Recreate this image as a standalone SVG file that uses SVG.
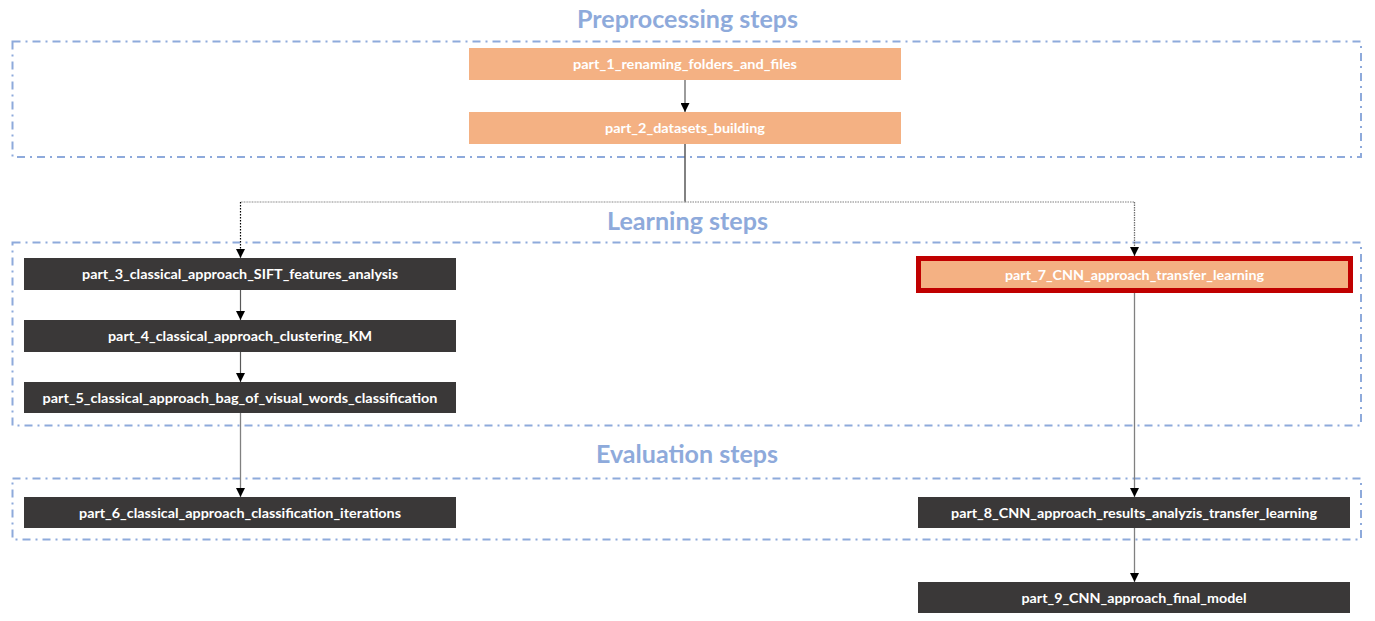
<svg xmlns="http://www.w3.org/2000/svg" width="1375" height="621" viewBox="0 0 1375 621">
<style>
.title{font-family:Lato,"Liberation Sans",sans-serif;font-weight:bold;font-size:24px;fill:#8EAADB;text-anchor:middle}
.lbl{font-family:Lato,"Liberation Sans",sans-serif;font-weight:bold;font-size:14px;fill:#FFFFFF;text-anchor:middle}
.grp{fill:none;stroke:#8EAADB;stroke-width:2;stroke-dasharray:8 5 2 5}
.orange{fill:#F4B183}
.dark{fill:#3A3838}
.ln{fill:none;stroke:#595959;stroke-width:1.2}
</style>
<defs>
<marker id="arr" viewBox="0 0 10 10" refX="10" refY="5" markerWidth="9" markerHeight="9" markerUnits="userSpaceOnUse" orient="auto">
<path d="M0,0 L10,5 L0,10 z" fill="#000000"/>
</marker>
</defs>
<rect width="1375" height="621" fill="#FFFFFF"/>
<g id="groups">
<rect class="grp" x="12.5" y="41.5" width="1348.5" height="115.5"/>
<rect class="grp" x="12.5" y="242.5" width="1348.5" height="183"/>
<rect class="grp" x="12.5" y="478.5" width="1348.5" height="61"/>
</g>
<g id="titles">
<text class="title" x="687.5" y="28" textLength="221" lengthAdjust="spacingAndGlyphs">Preprocessing steps</text>
<text class="title" x="687.5" y="230" textLength="161" lengthAdjust="spacingAndGlyphs">Learning steps</text>
<text class="title" x="687" y="463" textLength="182" lengthAdjust="spacingAndGlyphs">Evaluation steps</text>
</g>
<g id="connectors">
<line class="ln" x1="685" y1="80" x2="685" y2="112" marker-end="url(#arr)"/>
<line x1="685" y1="144" x2="685" y2="202" stroke="#595959" stroke-width="1.5"/>
<line x1="685" y1="202" x2="240.5" y2="202" stroke="#B0B0B0" stroke-width="1.5" stroke-dasharray="1 0.6"/>
<line x1="685" y1="202" x2="1134.5" y2="202" stroke="#808080" stroke-width="1.2" stroke-dasharray="1.5 1"/>
<line x1="240.5" y1="202" x2="240.5" y2="258" stroke="#000000" stroke-width="1.2" stroke-dasharray="1.5 1.5" marker-end="url(#arr)"/>
<line x1="1134.5" y1="202" x2="1134.5" y2="256" stroke="#707070" stroke-width="1.3" stroke-dasharray="1.5 1" marker-end="url(#arr)"/>
<line class="ln" x1="240.5" y1="290" x2="240.5" y2="320" marker-end="url(#arr)"/>
<line class="ln" x1="240.5" y1="352" x2="240.5" y2="382" marker-end="url(#arr)"/>
<line x1="240.5" y1="413" x2="240.5" y2="497" stroke="#808080" stroke-width="1.3" marker-end="url(#arr)"/>
<line x1="1134.5" y1="293" x2="1134.5" y2="497" stroke="#808080" stroke-width="1.3" marker-end="url(#arr)"/>
<line x1="1134.5" y1="528" x2="1134.5" y2="582" stroke="#808080" stroke-width="1.3" marker-end="url(#arr)"/>
</g>
<g id="part_1">
<rect class="orange" x="469" y="48" width="432" height="32"/>
<text class="lbl" x="685" y="69" textLength="224" lengthAdjust="spacingAndGlyphs">part_1_renaming_folders_and_files</text>
</g>
<g id="part_2">
<rect class="orange" x="469" y="112" width="432" height="32"/>
<text class="lbl" x="685" y="133" textLength="160" lengthAdjust="spacingAndGlyphs">part_2_datasets_building</text>
</g>
<g id="part_3">
<rect class="dark" x="24" y="258" width="432" height="32"/>
<text class="lbl" x="240" y="279" textLength="316" lengthAdjust="spacingAndGlyphs">part_3_classical_approach_SIFT_features_analysis</text>
</g>
<g id="part_4">
<rect class="dark" x="24" y="320" width="432" height="32"/>
<text class="lbl" x="240" y="341" textLength="264" lengthAdjust="spacingAndGlyphs">part_4_classical_approach_clustering_KM</text>
</g>
<g id="part_5">
<rect class="dark" x="24" y="382" width="432" height="31"/>
<text class="lbl" x="240" y="402.5" textLength="395" lengthAdjust="spacingAndGlyphs">part_5_classical_approach_bag_of_visual_words_classification</text>
</g>
<g id="part_6">
<rect class="dark" x="24" y="497" width="432" height="31"/>
<text class="lbl" x="240" y="517.5" textLength="322" lengthAdjust="spacingAndGlyphs">part_6_classical_approach_classification_iterations</text>
</g>
<g id="part_7">
<rect class="orange" x="918.5" y="258.5" width="432" height="32" stroke="#C00000" stroke-width="5"/>
<text class="lbl" x="1134.5" y="279.5" textLength="259" lengthAdjust="spacingAndGlyphs">part_7_CNN_approach_transfer_learning</text>
</g>
<g id="part_8">
<rect class="dark" x="918" y="497" width="432" height="31"/>
<text class="lbl" x="1134" y="517.5" textLength="366" lengthAdjust="spacingAndGlyphs">part_8_CNN_approach_results_analyzis_transfer_learning</text>
</g>
<g id="part_9">
<rect class="dark" x="918" y="582" width="432" height="31"/>
<text class="lbl" x="1134" y="602.5" textLength="225" lengthAdjust="spacingAndGlyphs">part_9_CNN_approach_final_model</text>
</g>
</svg>
